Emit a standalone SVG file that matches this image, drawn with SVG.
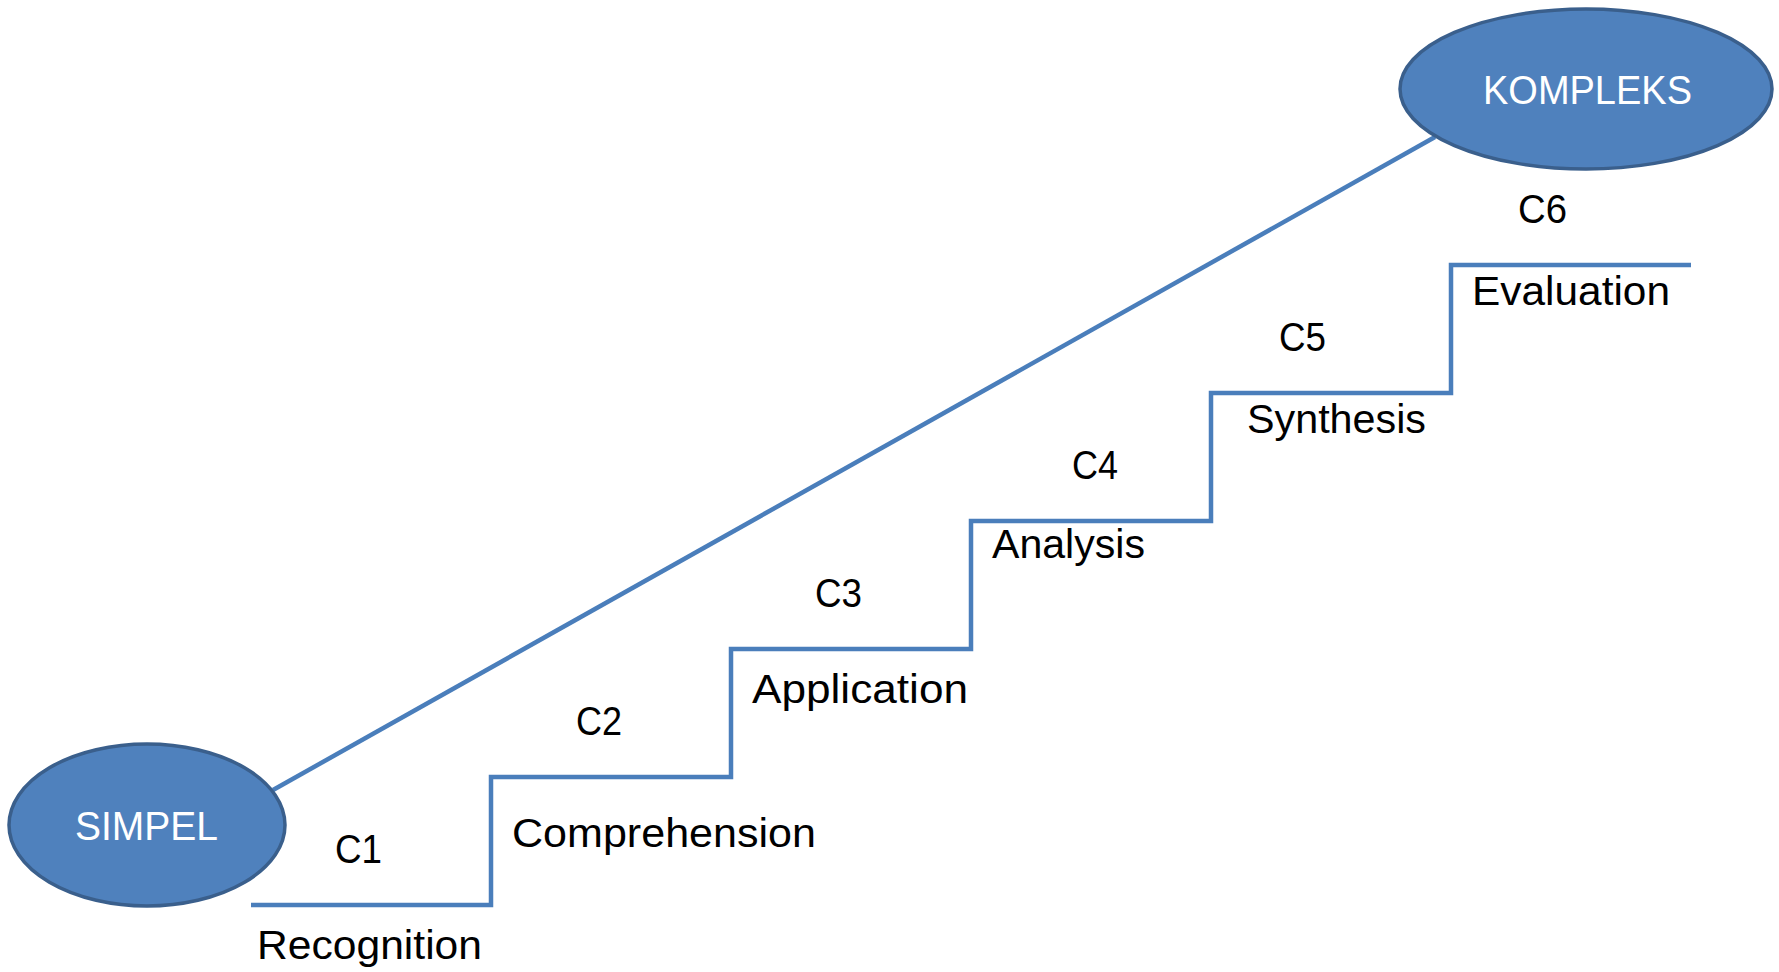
<svg xmlns="http://www.w3.org/2000/svg" width="1779" height="972" viewBox="0 0 1779 972">
<style>
.node{fill:#4F81BD;stroke:#3A5F8C;stroke-width:3.5}
.nt{font-family:"Liberation Sans",Arial,sans-serif;font-size:40px;fill:#FFFFFF}
.lbl{font-family:"Liberation Sans",Arial,sans-serif;font-size:41px;fill:#000000}
.ln{fill:none;stroke:#4A7EBB;stroke-width:4.5}
</style>
<rect width="1779" height="972" fill="#FFFFFF"/>
<g id="connectors">
<line class="ln" x1="273" y1="790" x2="1435" y2="137"/>
<polyline class="ln" points="251,905 491,905 491,777 731,777 731,649 971,649 971,521 1211,521 1211,393 1451,393 1451,265 1691,265"/>
</g>
<g id="simpel">
<ellipse class="node" cx="147" cy="825" rx="138" ry="81"/>
<text class="nt" x="75" y="840" textLength="143" lengthAdjust="spacingAndGlyphs">SIMPEL</text>
</g>
<g id="kompleks">
<ellipse class="node" cx="1586" cy="89" rx="186" ry="80"/>
<text class="nt" x="1483" y="104" textLength="209" lengthAdjust="spacingAndGlyphs">KOMPLEKS</text>
</g>
<g id="labels">
<text class="lbl" x="335" y="863" textLength="47" lengthAdjust="spacingAndGlyphs">C1</text>
<text class="lbl" x="576" y="735" textLength="46" lengthAdjust="spacingAndGlyphs">C2</text>
<text class="lbl" x="815" y="607" textLength="47" lengthAdjust="spacingAndGlyphs">C3</text>
<text class="lbl" x="1072" y="479" textLength="46" lengthAdjust="spacingAndGlyphs">C4</text>
<text class="lbl" x="1279" y="351" textLength="47" lengthAdjust="spacingAndGlyphs">C5</text>
<text class="lbl" x="1518" y="223" textLength="49" lengthAdjust="spacingAndGlyphs">C6</text>
<text class="lbl" x="257" y="959" textLength="225" lengthAdjust="spacingAndGlyphs">Recognition</text>
<text class="lbl" x="512" y="847" textLength="304" lengthAdjust="spacingAndGlyphs">Comprehension</text>
<text class="lbl" x="752" y="703" textLength="216" lengthAdjust="spacingAndGlyphs">Application</text>
<text class="lbl" x="992" y="558" textLength="153" lengthAdjust="spacingAndGlyphs">Analysis</text>
<text class="lbl" x="1247" y="433" textLength="179" lengthAdjust="spacingAndGlyphs">Synthesis</text>
<text class="lbl" x="1472" y="305" textLength="198" lengthAdjust="spacingAndGlyphs">Evaluation</text>
</g>
</svg>
